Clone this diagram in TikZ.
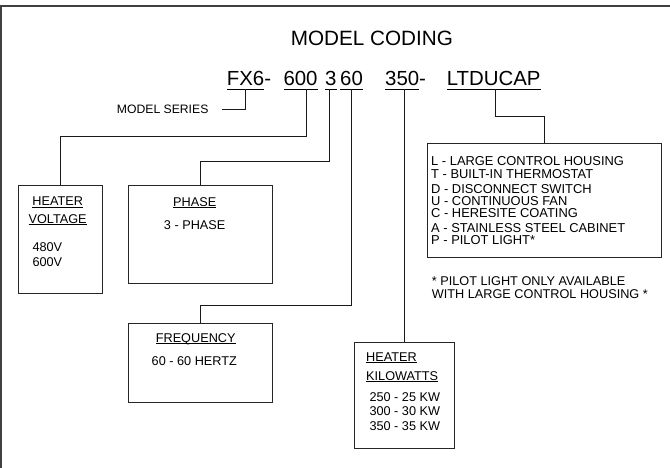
\documentclass[tikz,border=0pt]{standalone}
\usepackage{fontspec}
\setmainfont{Liberation Sans}
\newcommand\myul[2][1.6pt]{\setbox0\hbox{#2}\rlap{\rule[-#1]{\wd0}{0.8pt}}\box0}
\begin{document}
\begin{tikzpicture}[x=1pt,y=-1pt,
  frame/.style={draw=black!75,line width=1.5pt},
  box/.style={draw=black!85,line width=0.9pt,rectangle,inner sep=0pt,anchor=north west},
  conn/.style={draw=black!90,line width=0.8pt},
  small/.style={inner sep=0pt,font=\fontsize{12.7}{14}\selectfont},
  code/.style={inner sep=0pt,anchor=base west,font=\fontsize{20.4}{24}\selectfont},
  textc/.style={text=black!90}]
\useasboundingbox (0,0) rectangle (670,468);
% frame
\draw[frame] (0,6) -- (670,6);
\draw[frame] (0.8,6) -- (0.8,468);
% title
\node[inner sep=0pt,anchor=base west,font=\fontsize{20.7}{24}\selectfont] (title) at (290.6,46) {MODEL CODING};
% code line
\node[code] (cfx) at (226.7,85.5) {\myul[4.3pt]{FX6}-};
\node[code] (c600) at (283.3,85.5) {\myul[4.3pt]{600}};
\node[code] (c3) at (325,85.5) {\myul[4.3pt]{3}};
\node[code] (c60) at (340,85.5) {\myul[4.3pt]{60}};
\node[code] (c350) at (385,85.5) {\myul[4.3pt]{350}-};
\node[code] (cl) at (446.6,85.5) {\myul[4.3pt]{LTDUCAP}};
% model series
\node[inner sep=0pt,anchor=base west,font=\fontsize{12.2}{14}\selectfont] (ms) at (116.7,113.6) {MODEL SERIES};
% connector start points just below the underlines
\coordinate (pfx) at (245,89.5);
\coordinate (p600) at (306.7,89.5);
\coordinate (p3) at (329.3,89.5);
\coordinate (p60) at (351.7,89.5);
\coordinate (p350) at (404.2,89.5);
\coordinate (pl) at (494.9,89.5);
\coordinate (msend) at (221.7,109.3);
% boxes
\node[box,minimum width=84pt,minimum height=107.7pt] (volt) at (18.3,185) {};
\node[box,minimum width=144pt,minimum height=98.3pt] (phase) at (128,185) {};
\node[box,minimum width=144pt,minimum height=79.6pt] (freq) at (127.7,322.7) {};
\node[box,minimum width=100pt,minimum height=106.6pt] (kw) at (354.3,341.7) {};
\node[box,minimum width=234.3pt,minimum height=114.6pt] (opt) at (426.7,142.7) {};
% connectors
\draw[conn] (pfx) |- (msend);
\draw[conn] (p600) -- ++(0,46.5) -| (volt.north);
\draw[conn] (p3) -- ++(0,71.5) -| (phase.north);
\draw[conn] (p60) -- ++(0,216.2) -| (freq.north);
\draw[conn] (p350) -- (p350 |- kw.north);
\draw[conn] (pl) -- ++(0,26.5) -| (opt.north);
% heater voltage
\node[small,anchor=base] (hv1) at (57.7,205.7) {\myul{HEATER}};
\node[small,anchor=base] (hv2) at (57.6,223.3) {\myul{VOLTAGE}};
\node[small,anchor=base west] (hv3) at (32.3,251.7) {480V};
\node[small,anchor=base west] (hv4) at (32.3,266) {600V};
% phase
\node[small,anchor=base] (ph1) at (194.7,206.7) {\myul{PHASE}};
\node[small,anchor=base] (ph2) at (194.7,229.3) {3 - PHASE};
% frequency
\node[small,anchor=base] (fr1) at (195.7,342.3) {\myul{FREQUENCY}};
\node[small,anchor=base] (fr2) at (194.3,365) {60 - 60 HERTZ};
% heater kilowatts
\node[small,anchor=base west] (kw1) at (366,361) {\myul{HEATER}};
\node[small,anchor=base west] (kw2) at (366,380) {\myul{KILOWATTS}};
\node[small,anchor=base west] (kw3) at (369.3,401) {250 - 25 KW};
\node[small,anchor=base west] (kw4) at (369.3,415.7) {300 - 30 KW};
\node[small,anchor=base west] (kw5) at (369.3,430.7) {350 - 35 KW};
% options
\begin{scope}[every node/.style={inner sep=0pt,anchor=base west,font=\fontsize{12.9}{14}\selectfont}]
\node (o1) at (431,165.7) {L - LARGE CONTROL HOUSING};
\node (o2) at (431,178.3) {T - BUILT-IN THERMOSTAT};
\node (o3) at (431,193.3) {D - DISCONNECT SWITCH};
\node (o4) at (431,205.7) {U - CONTINUOUS FAN};
\node (o5) at (431,217.3) {C - HERESITE COATING};
\node (o6) at (431,232.3) {A - STAINLESS STEEL CABINET};
\node (o7) at (431,244.3) {P - PILOT LIGHT*};
\end{scope}
% footnote
\node[small,anchor=base west] (fn1) at (431.7,285.7) {* PILOT LIGHT ONLY AVAILABLE};
\node[small,anchor=base west] (fn2) at (431.7,298.3) {WITH LARGE CONTROL HOUSING *};
\end{tikzpicture}
\end{document}
